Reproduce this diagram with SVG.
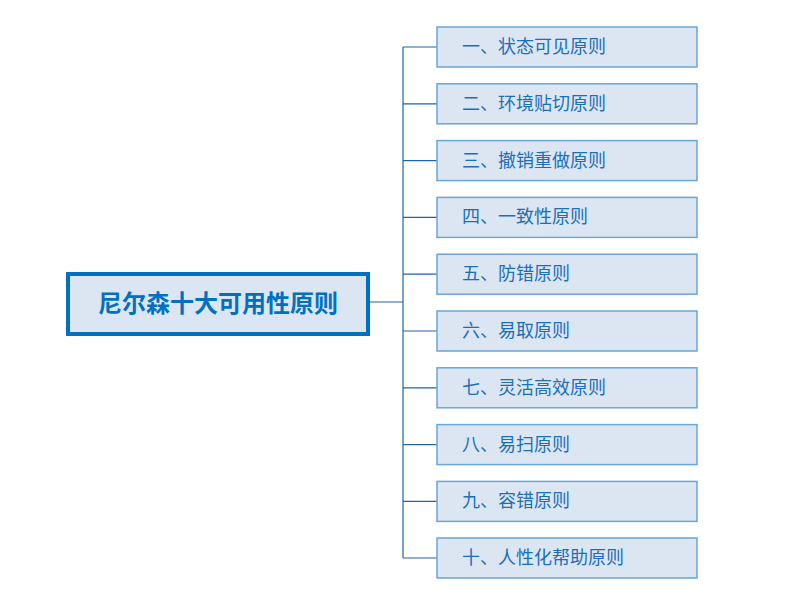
<svg xmlns="http://www.w3.org/2000/svg" width="800" height="600" viewBox="0 0 800 600">
<style>
.child rect{fill:#DCE6F2;stroke:#6AA6D6;stroke-width:1.5}
.child text{font-family:"Noto Sans CJK SC","Liberation Sans",sans-serif;font-size:18px;fill:#1A6FB8;dominant-baseline:central}
.conn{fill:none;stroke:#1F64A8;stroke-width:1.2}
</style>
<rect width="800" height="600" fill="#FFFFFF"/>
<g id="connectors" class="conn">
<path d="M370,302 H403 M403,47 V558 M403,47 H437 M403,103.8 H437 M403,160.6 H437 M403,217.4 H437 M403,274.2 H437 M403,331 H437 M403,387.8 H437 M403,444.6 H437 M403,501.4 H437 M403,558 H437"/>
</g>
<g id="root">
<rect x="68" y="274" width="300" height="60" fill="#DCE6F2" stroke="#0070C0" stroke-width="4"/>
<text x="218" y="301" text-anchor="middle" dominant-baseline="central" font-family="Noto Sans CJK SC,Liberation Sans,sans-serif" font-size="24" font-weight="bold" fill="#0070C0">尼尔森十大可用性原则</text>
</g>
<g id="n1" class="child"><rect x="437" y="27" width="260" height="40"/><text x="462" y="45">一、状态可见原则</text></g>
<g id="n2" class="child"><rect x="437" y="83.8" width="260" height="40"/><text x="462" y="101.8">二、环境贴切原则</text></g>
<g id="n3" class="child"><rect x="437" y="140.6" width="260" height="40"/><text x="462" y="158.6">三、撤销重做原则</text></g>
<g id="n4" class="child"><rect x="437" y="197.4" width="260" height="40"/><text x="462" y="215.4">四、一致性原则</text></g>
<g id="n5" class="child"><rect x="437" y="254.2" width="260" height="40"/><text x="462" y="272.2">五、防错原则</text></g>
<g id="n6" class="child"><rect x="437" y="311" width="260" height="40"/><text x="462" y="329">六、易取原则</text></g>
<g id="n7" class="child"><rect x="437" y="367.8" width="260" height="40"/><text x="462" y="385.8">七、灵活高效原则</text></g>
<g id="n8" class="child"><rect x="437" y="424.6" width="260" height="40"/><text x="462" y="442.6">八、易扫原则</text></g>
<g id="n9" class="child"><rect x="437" y="481.4" width="260" height="40"/><text x="462" y="499.4">九、容错原则</text></g>
<g id="n10" class="child"><rect x="437" y="538" width="260" height="40"/><text x="462" y="556">十、人性化帮助原则</text></g>
</svg>
